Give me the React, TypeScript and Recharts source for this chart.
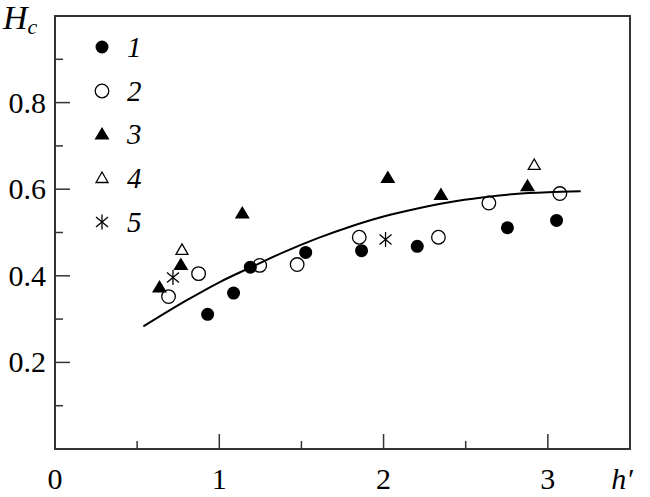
import { ComposedChart, Legend, Line, ReferenceArea, Scatter, XAxis, YAxis } from "recharts";

const FONT = "Liberation Serif, Tinos, DejaVu Serif, Times New Roman, serif";

// measured points, h' vs Hc
const set1 = [
  { x: 0.929, y: 0.311 },
  { x: 1.087, y: 0.36 },
  { x: 1.189, y: 0.42 },
  { x: 1.526, y: 0.454 },
  { x: 1.866, y: 0.458 },
  { x: 2.205, y: 0.468 },
  { x: 2.754, y: 0.511 },
  { x: 3.053, y: 0.528 },
];
const set2 = [
  { x: 0.691, y: 0.352 },
  { x: 0.874, y: 0.405 },
  { x: 1.246, y: 0.424 },
  { x: 1.474, y: 0.426 },
  { x: 1.852, y: 0.489 },
  { x: 2.334, y: 0.489 },
  { x: 2.641, y: 0.568 },
  { x: 3.073, y: 0.59 },
];
const set3 = [
  { x: 0.636, y: 0.374 },
  { x: 0.766, y: 0.426 },
  { x: 1.14, y: 0.545 },
  { x: 2.026, y: 0.627 },
  { x: 2.349, y: 0.588 },
  { x: 2.876, y: 0.608 },
];
const set4 = [
  { x: 0.773, y: 0.46 },
  { x: 2.917, y: 0.656 },
];
const set5 = [
  { x: 0.718, y: 0.396 },
  { x: 2.012, y: 0.484 },
];

// fitted curve
const curve = [
  { x: 0.538, y: 0.283 },
  { x: 0.8, y: 0.343 },
  { x: 1.0, y: 0.385 },
  { x: 1.2, y: 0.421 },
  { x: 1.4, y: 0.456 },
  { x: 1.6, y: 0.487 },
  { x: 1.8, y: 0.514 },
  { x: 2.0, y: 0.537 },
  { x: 2.2, y: 0.555 },
  { x: 2.4, y: 0.57 },
  { x: 2.6, y: 0.581 },
  { x: 2.8, y: 0.589 },
  { x: 3.0, y: 0.593 },
  { x: 3.2, y: 0.595 },
];

const xTicks = [0, 0.5, 1, 1.5, 2, 2.5, 3];
const yTicks = [0.1, 0.2, 0.3, 0.4, 0.5, 0.6, 0.7, 0.8, 0.9];
const xLabels: Record<string, string> = { "0": "0", "1": "1", "2": "2", "3": "3" };
const yLabels: Record<string, string> = { "0.2": "0.2", "0.4": "0.4", "0.6": "0.6", "0.8": "0.8" };
const legendNames = ["1", "2", "3", "4", "5"];

type Marker = (cx: number, cy: number) => JSX.Element;

const dot: Marker = (cx, cy) => <circle cx={cx} cy={cy} r={6.5} fill="#000" />;
const ring: Marker = (cx, cy) => <circle cx={cx} cy={cy} r={6.8} fill="none" stroke="#000" strokeWidth={1.3} />;
const tri: Marker = (cx, cy) => (
  <polygon points={`${cx},${cy - 7} ${cx - 7.5},${cy + 5.5} ${cx + 7.5},${cy + 5.5}`} fill="#000" />
);
const openTri: Marker = (cx, cy) => (
  <polygon
    points={`${cx},${cy - 6} ${cx - 6},${cy + 4.5} ${cx + 6},${cy + 4.5}`}
    fill="none"
    stroke="#000"
    strokeWidth={1.3}
  />
);
const star: Marker = (cx, cy) => (
  <g stroke="#000" strokeWidth={1.3}>
    <line x1={cx} y1={cy - 7.5} x2={cx} y2={cy + 7.5} />
    <line x1={cx - 6} y1={cy - 5} x2={cx + 6} y2={cy + 5} />
    <line x1={cx - 6} y1={cy + 5} x2={cx + 6} y2={cy - 5} />
  </g>
);

const markers = [dot, ring, tri, openTri, star];

const shapeOf = (m: Marker) => (p: any) => m(p.cx, p.cy);

function XTick({ x, y, payload }: any) {
  const v = payload.value;
  const major = Number.isInteger(v);
  const label = xLabels[String(v)];
  return (
    <g>
      {v > 0 && <line x1={x} y1={y} x2={x} y2={y - (major ? 15 : 8)} stroke="#333" strokeWidth={1.5} />}
      {label && (
        <text x={x} y={y + 40} textAnchor="middle" style={{ fontFamily: FONT, fontSize: 30 }} fill="#000">
          {label}
        </text>
      )}
    </g>
  );
}

function YTick({ x, y, payload }: any) {
  const v = Math.round(payload.value * 10) / 10;
  const label = yLabels[String(v)];
  return (
    <g>
      <line x1={x} y1={y} x2={x + (label ? 15 : 8)} y2={y} stroke="#333" strokeWidth={1.5} />
      {label && (
        <text x={x - 9} y={y + 10} textAnchor="end" style={{ fontFamily: FONT, fontSize: 30 }} fill="#000">
          {label}
        </text>
      )}
    </g>
  );
}

function LegendBox() {
  return (
    <div style={{ fontFamily: FONT }}>
      {legendNames.map((n, i) => (
        <div key={n} style={{ display: "flex", alignItems: "center", height: 43.7 }}>
          <svg width={24} height={24}>
            {markers[i](12, 12)}
          </svg>
          <span style={{ marginLeft: 13, fontSize: 29, fontStyle: "italic", lineHeight: "30px" }}>{n}</span>
        </div>
      ))}
    </div>
  );
}

export default function App() {
  return (
    <div style={{ position: "fixed", left: 0, top: 0, width: 650, height: 497, background: "#fff", fontFamily: FONT }}>
      <ComposedChart width={650} height={497} margin={{ top: 16, right: 20, bottom: 0, left: 0 }}>
        <XAxis
          type="number"
          dataKey="x"
          domain={[0, 3.5]}
          ticks={xTicks}
          interval={0}
          height={48}
          tickSize={0}
          tickMargin={0}
          axisLine={false}
          tickLine={false}
          tick={<XTick />}
          label={{
            content: () => (
              <text
                x={622}
                y={489}
                textAnchor="middle"
                style={{ fontFamily: FONT, fontSize: 30, fontStyle: "italic" }}
                fill="#000"
              >
                h′
              </text>
            ),
          }}
        />
        <YAxis
          type="number"
          dataKey="y"
          domain={[0, 1]}
          ticks={yTicks}
          interval={0}
          width={55}
          tickSize={0}
          tickMargin={0}
          axisLine={false}
          tickLine={false}
          tick={<YTick />}
          label={{
            content: () => (
              <text x={3} y={29} style={{ fontFamily: FONT, fontSize: 34, fontStyle: "italic" }} fill="#000">
                H
                <tspan style={{ fontSize: 22 }} dy={5}>
                  c
                </tspan>
              </text>
            ),
          }}
        />
        <ReferenceArea x1={0} x2={3.5} y1={0} y2={1} fill="none" stroke="#333" strokeWidth={2} />
        <Line
          data={curve}
          dataKey="y"
          type="monotone"
          stroke="#000"
          strokeWidth={2}
          dot={false}
          isAnimationActive={false}
        />
        <Scatter data={set1} dataKey="y" shape={shapeOf(dot)} isAnimationActive={false} />
        <Scatter data={set2} dataKey="y" shape={shapeOf(ring)} isAnimationActive={false} />
        <Scatter data={set3} dataKey="y" shape={shapeOf(tri)} isAnimationActive={false} />
        <Scatter data={set4} dataKey="y" shape={shapeOf(openTri)} isAnimationActive={false} />
        <Scatter data={set5} dataKey="y" shape={shapeOf(star)} isAnimationActive={false} />
        <Legend
          layout="vertical"
          align="center"
          verticalAlign="middle"
          content={() => <LegendBox />}
          wrapperStyle={{ left: 90, top: 25, width: "auto" }}
        />
      </ComposedChart>
    </div>
  );
}
